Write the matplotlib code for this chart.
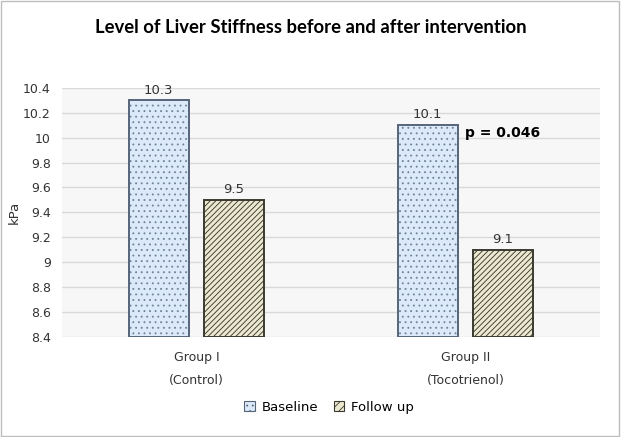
import numpy as np
import matplotlib
matplotlib.use("Agg")
import matplotlib.pyplot as plt
from matplotlib.patches import Rectangle

groups = ["Group I\n(Control)", "Group II\n(Tocotrienol)"]
baseline = [10.3, 10.1]
follow_up = [9.5, 9.1]
yticks = [8.4, 8.6, 8.8, 9.0, 9.2, 9.4, 9.6, 9.8, 10.0, 10.2, 10.4]
ytick_labels = ["8.4", "8.6", "8.8", "9", "9.2", "9.4", "9.6", "9.8", "10", "10.2", "10.4"]

plt.rcParams['hatch.linewidth'] = 0.6

fig = plt.figure(figsize=(6.21, 4.37), dpi=100)
fig.patch.set_facecolor("white")
fig.add_artist(Rectangle((0.002, 0.002), 0.995, 0.995, transform=fig.transFigure,
                         fill=False, edgecolor="#bdbdbd", linewidth=1))

ax = fig.add_axes([0.0998, 0.229, 0.866, 0.570])
ax.set_facecolor("#f7f7f7")

x = np.arange(len(groups))
w = 0.223
off = 0.14

# fill + pattern (pattern colour comes from edgecolor, so no outline here)
ax.bar(x - off, np.array(baseline) - 8.4, w, bottom=8.4, color="#dce9f8",
       edgecolor="#6f8195", linewidth=0, hatch="...", zorder=3)
ax.bar(x + off, np.array(follow_up) - 8.4, w, bottom=8.4, color="#ece8cf",
       edgecolor="#2e2e26", linewidth=0, hatch="//////", zorder=3)
# outlines
b1 = ax.bar(x - off, np.array(baseline) - 8.4, w, bottom=8.4, facecolor="none",
            edgecolor="#56657a", linewidth=1.4, zorder=4)
b2 = ax.bar(x + off, np.array(follow_up) - 8.4, w, bottom=8.4, facecolor="none",
            edgecolor="#3a3a30", linewidth=1.4, zorder=4)

for i in range(len(groups)):
    ax.text(x[i] - off, baseline[i] + 0.03, f"{baseline[i]:.1f}", ha="center", va="bottom",
            fontsize=9.5, color="#333333")
    ax.text(x[i] + off, follow_up[i] + 0.03, f"{follow_up[i]:.1f}", ha="center", va="bottom",
            fontsize=9.5, color="#333333")

ax.text(x[1] + off, baseline[1] - 0.06, "p = 0.046", ha="center", va="center",
        fontsize=10, fontweight="bold", color="black")

ax.set_xlim(-0.5, 1.5)
ax.set_ylim(8.4, 10.4)
ax.set_yticks(yticks)
ax.set_yticklabels(ytick_labels, fontsize=9, color="#333333")
ax.set_xticks(x)
ax.set_xticklabels(groups, fontsize=9, color="#333333", linespacing=2.0)
ax.tick_params(axis="x", length=0, pad=10)
ax.tick_params(axis="y", length=0, pad=8)
ax.yaxis.grid(True, color="#d9d9d9", linewidth=1, zorder=0)
for s in ax.spines.values():
    s.set_visible(False)
ax.set_ylabel("kPa", fontsize=9.5, color="#333333", labelpad=2)

fig.text(0.5, 0.937, "Level of Liver Stiffness before and after intervention",
         ha="center", va="center", fontsize=13.3, fontweight="bold", family="Lato")

legend_handles = [
    Rectangle((0, 0), 1, 1, facecolor="#dce9f8", edgecolor="#56657a", hatch="...", linewidth=0.8),
    Rectangle((0, 0), 1, 1, facecolor="#ece8cf", edgecolor="#3a3a30", hatch="////", linewidth=0.8),
]
fig.legend(handles=legend_handles, labels=["Baseline", "Follow up"], loc="center",
           bbox_to_anchor=(0.53, 0.068), ncol=2, frameon=False, fontsize=9.5,
           handlelength=0.8, handleheight=0.8, columnspacing=1.2, handletextpad=0.5)

fig.savefig("out.png", dpi=100)
